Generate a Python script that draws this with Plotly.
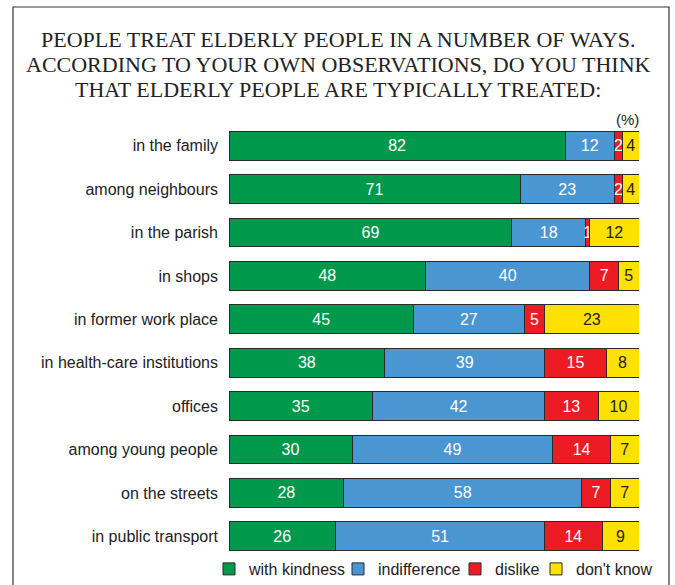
import plotly.graph_objects as go

categories = ["in the family", "among neighbours", "in the parish", "in shops",
              "in former work place", "in health-care institutions", "offices",
              "among young people", "on the streets", "in public transport"]
kindness = [82, 71, 69, 48, 45, 38, 35, 30, 28, 26]
indifference = [12, 23, 18, 40, 27, 39, 42, 49, 58, 51]
dislike = [2, 2, 1, 7, 5, 15, 13, 14, 7, 14]
dont_know = [4, 4, 12, 5, 23, 8, 10, 7, 7, 9]
title_lines = ["PEOPLE TREAT ELDERLY PEOPLE IN A NUMBER OF WAYS.",
               "ACCORDING TO YOUR OWN OBSERVATIONS, DO YOU THINK",
               "THAT ELDERLY PEOPLE ARE TYPICALLY TREATED:"]

series = [
    ("with kindness", kindness, "#00984A", "white", 84),
    ("indifference", indifference, "#4A96D2", "white", 72),
    ("dislike", dislike, "#ED1C24", "white", 36),
    ("don't know", dont_know, "#FFE100", "#222222", 75),
]

fig = go.Figure()
for name, vals, col, tcol, ew in series:
    fig.add_trace(go.Bar(
        y=categories, x=vals, name=name, orientation="h",
        marker=dict(color=col, line=dict(color="#2a2a2a", width=1)),
        text=[str(v) for v in vals], textposition="inside",
        insidetextanchor="middle", textangle=0,
        insidetextfont=dict(family="Liberation Sans", size=16, color=tcol),
        cliponaxis=False, hoverinfo="skip", legendwidth=ew,
    ))

H0, H1 = 124, 558  # plot pixel top/bottom
ph = H1 - H0
def py(p):
    return (H1 - p) / ph
def px(p):
    return (p - 229) / 410

annotations = []
for i, (line, ypix) in enumerate(zip(title_lines, [40, 64.5, 89])):
    annotations.append(dict(text=line, x=px(338), y=py(ypix), xref="paper", yref="paper",
                            xanchor="center", yanchor="middle", showarrow=False,
                            font=dict(family="Liberation Serif", size=22, color="#222222")))
annotations.append(dict(text="(%)", x=px(627), y=py(119), xref="paper", yref="paper",
                        xanchor="center", yanchor="middle", showarrow=False,
                        font=dict(family="Liberation Sans", size=15, color="#222222")))

fig.update_layout(
    width=675, height=585,
    barmode="stack", bargap=0.34,
    margin=dict(l=229, r=36, t=H0, b=585 - H1, autoexpand=False),
    paper_bgcolor="white", plot_bgcolor="white",
    font=dict(family="Liberation Sans", size=16, color="#222222"),
    xaxis=dict(range=[0, 100], visible=False, fixedrange=True),
    yaxis=dict(autorange="reversed", showgrid=False, zeroline=False,
               showline=False, ticks="", ticklabelstandoff=10, fixedrange=True,
               tickfont=dict(family="Liberation Sans", size=16, color="#222222")),
    showlegend=True,
    legend=dict(orientation="h", x=px(209), xanchor="left", y=py(569), yanchor="middle",
                font=dict(family="Liberation Sans", size=16, color="#222222"),
                traceorder="normal", itemwidth=30, tracegroupgap=0,
                entrywidthmode="pixels",
                bgcolor="rgba(0,0,0,0)"),
    uniformtext=dict(minsize=16, mode="show"),
    annotations=annotations,
    shapes=[dict(type="rect", xref="paper", yref="paper",
                 x0=px(13), x1=px(669), y0=py(600), y1=py(7),
                 line=dict(color="#333333", width=1.2), fillcolor="rgba(0,0,0,0)",
                 layer="below")],
)

fig.write_html("out.html", config={"displayModeBar": False},
               post_script="document.body.style.margin='0';document.body.style.overflow='hidden';")
